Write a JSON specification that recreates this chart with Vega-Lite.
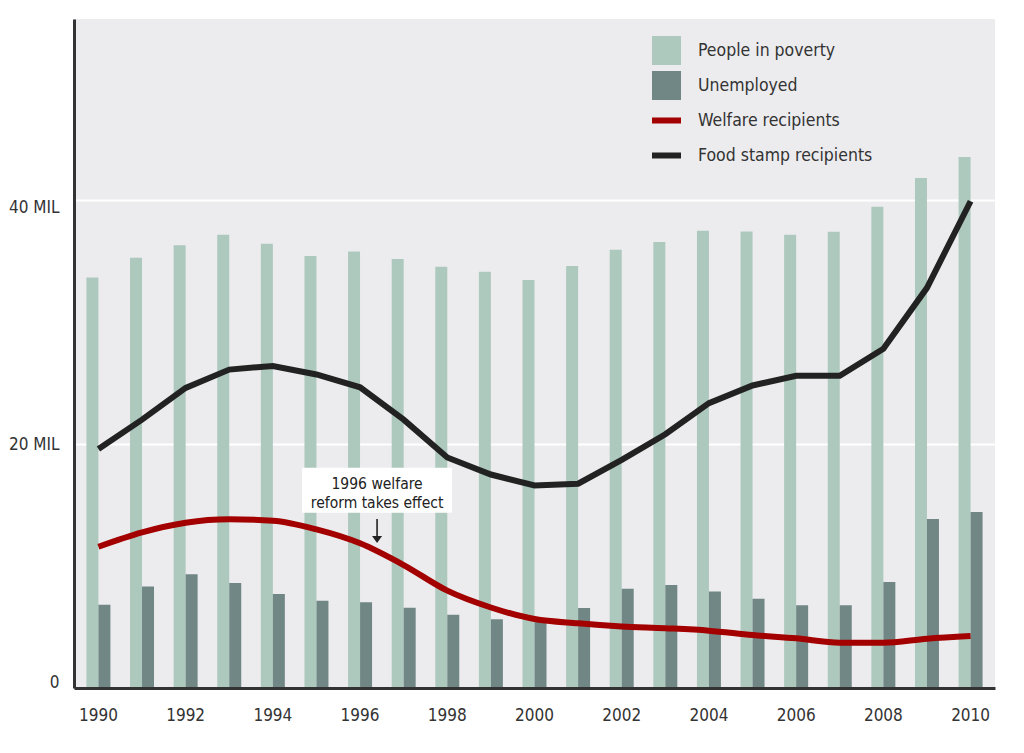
{
  "$schema": "https://vega.github.io/schema/vega-lite/v6.json",
  "width": 921,
  "height": 669,
  "autosize": {"type": "none"},
  "padding": {"left": 74, "top": 19, "right": 29, "bottom": 65},
  "background": "white",
  "config": {
    "view": {"fill": "#ececee", "stroke": null},
    "font": "DejaVu Sans Condensed, sans-serif",
    "axis": {"labelFont": "DejaVu Sans Condensed, sans-serif"},
    "legend": {"labelFont": "DejaVu Sans Condensed, sans-serif"}
  },
  "datasets": {
    "bars": [
      {"year": 1990, "series": "People in poverty", "value": 33.66},
      {"year": 1991, "series": "People in poverty", "value": 35.27},
      {"year": 1992, "series": "People in poverty", "value": 36.29},
      {"year": 1993, "series": "People in poverty", "value": 37.16},
      {"year": 1994, "series": "People in poverty", "value": 36.42},
      {"year": 1995, "series": "People in poverty", "value": 35.41},
      {"year": 1996, "series": "People in poverty", "value": 35.79},
      {"year": 1997, "series": "People in poverty", "value": 35.16},
      {"year": 1998, "series": "People in poverty", "value": 34.53},
      {"year": 1999, "series": "People in poverty", "value": 34.13},
      {"year": 2000, "series": "People in poverty", "value": 33.44},
      {"year": 2001, "series": "People in poverty", "value": 34.59},
      {"year": 2002, "series": "People in poverty", "value": 35.93},
      {"year": 2003, "series": "People in poverty", "value": 36.56},
      {"year": 2004, "series": "People in poverty", "value": 37.49},
      {"year": 2005, "series": "People in poverty", "value": 37.43},
      {"year": 2006, "series": "People in poverty", "value": 37.16},
      {"year": 2007, "series": "People in poverty", "value": 37.4},
      {"year": 2008, "series": "People in poverty", "value": 39.45},
      {"year": 2009, "series": "People in poverty", "value": 41.8},
      {"year": 2010, "series": "People in poverty", "value": 43.52},
      {"year": 1990, "series": "Unemployed", "value": 6.83},
      {"year": 1991, "series": "Unemployed", "value": 8.33},
      {"year": 1992, "series": "Unemployed", "value": 9.32},
      {"year": 1993, "series": "Unemployed", "value": 8.61},
      {"year": 1994, "series": "Unemployed", "value": 7.7},
      {"year": 1995, "series": "Unemployed", "value": 7.16},
      {"year": 1996, "series": "Unemployed", "value": 7.02},
      {"year": 1997, "series": "Unemployed", "value": 6.58},
      {"year": 1998, "series": "Unemployed", "value": 6.01},
      {"year": 1999, "series": "Unemployed", "value": 5.63},
      {"year": 2000, "series": "Unemployed", "value": 5.6},
      {"year": 2001, "series": "Unemployed", "value": 6.56},
      {"year": 2002, "series": "Unemployed", "value": 8.14},
      {"year": 2003, "series": "Unemployed", "value": 8.44},
      {"year": 2004, "series": "Unemployed", "value": 7.92},
      {"year": 2005, "series": "Unemployed", "value": 7.32},
      {"year": 2006, "series": "Unemployed", "value": 6.78},
      {"year": 2007, "series": "Unemployed", "value": 6.78},
      {"year": 2008, "series": "Unemployed", "value": 8.69},
      {"year": 2009, "series": "Unemployed", "value": 13.85},
      {"year": 2010, "series": "Unemployed", "value": 14.43}
    ],
    "lines": [
      {"year": 1990, "series": "Welfare recipients", "value": 11.58},
      {"year": 1991, "series": "Welfare recipients", "value": 12.76},
      {"year": 1992, "series": "Welfare recipients", "value": 13.55},
      {"year": 1993, "series": "Welfare recipients", "value": 13.83},
      {"year": 1994, "series": "Welfare recipients", "value": 13.71},
      {"year": 1995, "series": "Welfare recipients", "value": 13.0},
      {"year": 1996, "series": "Welfare recipients", "value": 11.86},
      {"year": 1997, "series": "Welfare recipients", "value": 10.08},
      {"year": 1998, "series": "Welfare recipients", "value": 7.98},
      {"year": 1999, "series": "Welfare recipients", "value": 6.6},
      {"year": 2000, "series": "Welfare recipients", "value": 5.65},
      {"year": 2001, "series": "Welfare recipients", "value": 5.3},
      {"year": 2002, "series": "Welfare recipients", "value": 5.05},
      {"year": 2003, "series": "Welfare recipients", "value": 4.9},
      {"year": 2004, "series": "Welfare recipients", "value": 4.7},
      {"year": 2005, "series": "Welfare recipients", "value": 4.34},
      {"year": 2006, "series": "Welfare recipients", "value": 4.07},
      {"year": 2007, "series": "Welfare recipients", "value": 3.71},
      {"year": 2008, "series": "Welfare recipients", "value": 3.71},
      {"year": 2009, "series": "Welfare recipients", "value": 4.04},
      {"year": 2010, "series": "Welfare recipients", "value": 4.26},
      {"year": 1990, "series": "Food stamp recipients", "value": 19.6},
      {"year": 1991, "series": "Food stamp recipients", "value": 22.0},
      {"year": 1992, "series": "Food stamp recipients", "value": 24.6},
      {"year": 1993, "series": "Food stamp recipients", "value": 26.1},
      {"year": 1994, "series": "Food stamp recipients", "value": 26.4},
      {"year": 1995, "series": "Food stamp recipients", "value": 25.7},
      {"year": 1996, "series": "Food stamp recipients", "value": 24.65},
      {"year": 1997, "series": "Food stamp recipients", "value": 22.0},
      {"year": 1998, "series": "Food stamp recipients", "value": 18.9},
      {"year": 1999, "series": "Food stamp recipients", "value": 17.5},
      {"year": 2000, "series": "Food stamp recipients", "value": 16.6},
      {"year": 2001, "series": "Food stamp recipients", "value": 16.75},
      {"year": 2002, "series": "Food stamp recipients", "value": 18.7},
      {"year": 2003, "series": "Food stamp recipients", "value": 20.8},
      {"year": 2004, "series": "Food stamp recipients", "value": 23.35},
      {"year": 2005, "series": "Food stamp recipients", "value": 24.8},
      {"year": 2006, "series": "Food stamp recipients", "value": 25.6},
      {"year": 2007, "series": "Food stamp recipients", "value": 25.6},
      {"year": 2008, "series": "Food stamp recipients", "value": 27.8},
      {"year": 2009, "series": "Food stamp recipients", "value": 32.8},
      {"year": 2010, "series": "Food stamp recipients", "value": 39.9}
    ],
    "note": [
      {"year": 1996, "box": 16.2, "label": ["1996 welfare", "reform takes effect"], "textY": 16.72, "arrowTop": 13.85, "arrowBottom": 12.45, "head": 12.17}
    ]
  },
  "layer": [
    {
      "data": {"name": "bars"},
      "mark": {"type": "bar"},
      "encoding": {
        "x": {
          "field": "year", "type": "ordinal",
          "scale": {"paddingInner": 0.45, "paddingOuter": 0.285},
          "axis": {
            "values": [1990, 1992, 1994, 1996, 1998, 2000, 2002, 2004, 2006, 2008, 2010],
            "title": null, "labelAngle": 0, "ticks": false, "grid": false,
            "domainColor": "#333333", "domainWidth": 3,
            "labelFontSize": 17, "labelColor": "#333333", "labelPadding": 19, "zindex": 1
          }
        },
        "xOffset": {
          "field": "series", "type": "nominal",
          "scale": {"domain": ["People in poverty", "Unemployed"], "paddingInner": 0, "paddingOuter": 0}
        },
        "y": {
          "field": "value", "type": "quantitative",
          "scale": {"domain": [0, 54.84], "nice": false, "zero": true},
          "axis": {
            "values": [0, 20, 40],
            "labelExpr": "datum.value == 0 ? '0' : datum.value + ' MIL'",
            "title": null, "ticks": false, "grid": true, "gridColor": "white", "gridWidth": 2,
            "domainColor": "#333333", "domainWidth": 3,
            "labelFontSize": 17, "labelColor": "#333333", "labelPadding": 15, "labelBaseline": "middle",
            "labelOffset": {"condition": [{"test": "datum.value == 40", "value": 7}, {"test": "datum.value == 0", "value": -6}], "value": 0},
            "zindex": 0
          }
        },
        "color": {
          "field": "series", "type": "nominal",
          "scale": {
            "domain": ["People in poverty", "Unemployed", "Welfare recipients", "Food stamp recipients"],
            "range": ["#adc8bd", "#718785", "#a30000", "#222222"]
          },
          "legend": {
            "orient": "none", "legendX": 578, "legendY": 17, "title": null,
            "symbolSize": 841, "labelFontSize": 17.5, "labelColor": "#333333", "labelLimit": 400,
            "labelOffset": 17, "rowPadding": 6, "padding": 0, "symbolStrokeWidth": 0,
            "encode": {
              "symbols": {
                "update": {
                  "shape": {"signal": "indexof(['Welfare recipients','Food stamp recipients'], datum.value) >= 0 ? 'M-1,-1M-1,-0.207H1V0.207H-1ZM1,1' : 'square'"},
                  "strokeWidth": {"value": 0},
                  "fill": {"signal": "scale('color', datum.value)"},
                  "stroke": {"signal": "scale('color', datum.value)"},
                  "opacity": {"value": 1},
                  "fillOpacity": {"value": 1},
                  "strokeOpacity": {"value": 1}
                }
              }
            }
          }
        }
      }
    },
    {
      "data": {"name": "lines"},
      "transform": [{"filter": "datum.series == 'Welfare recipients'"}],
      "mark": {"type": "line", "strokeWidth": 6, "interpolate": "monotone"},
      "encoding": {
        "x": {"field": "year", "type": "ordinal"},
        "y": {"field": "value", "type": "quantitative"},
        "color": {"field": "series", "type": "nominal"}
      }
    },
    {
      "data": {"name": "lines"},
      "transform": [{"filter": "datum.series == 'Food stamp recipients'"}],
      "mark": {"type": "line", "strokeWidth": 6, "interpolate": "linear"},
      "encoding": {
        "x": {"field": "year", "type": "ordinal"},
        "y": {"field": "value", "type": "quantitative"},
        "color": {"field": "series", "type": "nominal"}
      }
    },
    {
      "data": {"name": "note"},
      "mark": {"type": "point", "shape": "M-1,-0.3H1V0.3H-1Z", "size": 22500, "filled": true, "fill": "white", "opacity": 1, "strokeWidth": 0, "xOffset": 17},
      "encoding": {
        "x": {"field": "year", "type": "ordinal"},
        "y": {"field": "box", "type": "quantitative"}
      }
    },
    {
      "data": {"name": "note"},
      "mark": {"type": "text", "fontSize": 15.5, "color": "#222222", "lineHeight": 19, "baseline": "middle", "align": "center", "xOffset": 17},
      "encoding": {
        "x": {"field": "year", "type": "ordinal"},
        "y": {"field": "textY", "type": "quantitative"},
        "text": {"field": "label"}
      }
    },
    {
      "data": {"name": "note"},
      "mark": {"type": "rule", "strokeWidth": 1.6, "color": "#222222", "xOffset": 17},
      "encoding": {
        "x": {"field": "year", "type": "ordinal"},
        "y": {"field": "arrowTop", "type": "quantitative"},
        "y2": {"field": "arrowBottom"}
      }
    },
    {
      "data": {"name": "note"},
      "mark": {"type": "point", "shape": "M-1,-0.7L1,-0.7L0,0.7Z", "size": 100, "filled": true, "fill": "#222222", "opacity": 1, "strokeWidth": 0, "xOffset": 17},
      "encoding": {
        "x": {"field": "year", "type": "ordinal"},
        "y": {"field": "head", "type": "quantitative"}
      }
    }
  ]
}
